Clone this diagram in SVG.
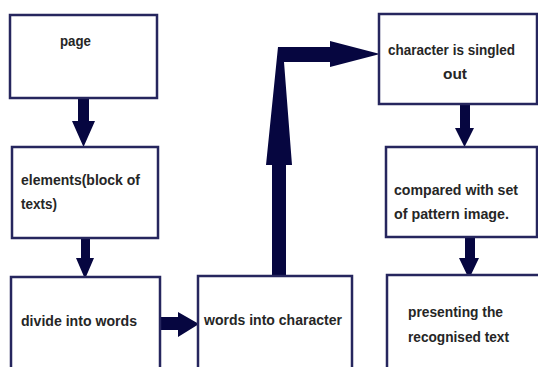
<svg xmlns="http://www.w3.org/2000/svg" width="538" height="367" viewBox="0 0 538 367">
<style>
.box{fill:#ffffff;stroke:#26265e;stroke-width:2.5}
.arr{fill:#060640;stroke:none}
text{font-family:"Liberation Sans",Arial,sans-serif;font-weight:bold;font-size:15.5px;fill:#262626}
</style>
<rect width="538" height="367" fill="#ffffff"/>
<g id="connectors">
<path class="arr" d="M78,98 L89,98 L89,121 L95,121 L83.5,147 L72,121 L78,121 Z"/>
<path class="arr" d="M81,238 L90,238 L90,258 L94,258 L85,279 L76,258 L81,258 Z"/>
<path class="arr" d="M160,317 L178,317 L178,312 L199,324 L178,337 L178,330 L160,330 Z"/>
<path class="arr" d="M272,277 L272,165 L266,165 L278,47 L330,47 L330,41 L380,54 L330,67 L330,62 L284,62 L292,165 L286,165 L286,277 Z"/>
<path class="arr" d="M460,104 L470,104 L470,128 L474,128 L464.5,147 L455,128 L460,128 Z"/>
<path class="arr" d="M465,237 L475,237 L475,258 L479,258 L469,279 L459,258 L465,258 Z"/>
</g>
<g id="node-page">
<rect class="box" x="10" y="15" width="147" height="83"/>
<text x="60" y="46" textLength="31" lengthAdjust="spacingAndGlyphs">page</text>
</g>
<g id="node-elements">
<rect class="box" x="12" y="147" width="146" height="91"/>
<text x="21" y="185" textLength="119" lengthAdjust="spacingAndGlyphs">elements(block of</text>
<text x="21" y="209" textLength="36" lengthAdjust="spacingAndGlyphs">texts)</text>
</g>
<g id="node-divide">
<rect class="box" x="11" y="277" width="149" height="100"/>
<text x="21" y="326" textLength="116" lengthAdjust="spacingAndGlyphs">divide into words</text>
</g>
<g id="node-words">
<rect class="box" x="198" y="276" width="154" height="100"/>
<text x="204" y="325" textLength="138" lengthAdjust="spacingAndGlyphs">words into character</text>
</g>
<g id="node-singled">
<rect class="box" x="379" y="14" width="158" height="90"/>
<text x="388" y="55" textLength="127" lengthAdjust="spacingAndGlyphs">character is singled</text>
<text x="443" y="79" textLength="24" lengthAdjust="spacingAndGlyphs">out</text>
</g>
<g id="node-compared">
<rect class="box" x="386" y="147" width="151" height="90"/>
<text x="394" y="195" textLength="124" lengthAdjust="spacingAndGlyphs">compared with set</text>
<text x="394" y="219" textLength="115" lengthAdjust="spacingAndGlyphs">of pattern image.</text>
</g>
<g id="node-presenting">
<rect class="box" x="387" y="275" width="160" height="100"/>
<text x="408" y="317" textLength="95" lengthAdjust="spacingAndGlyphs">presenting the</text>
<text x="408" y="342" textLength="101" lengthAdjust="spacingAndGlyphs">recognised text</text>
</g>
</svg>
